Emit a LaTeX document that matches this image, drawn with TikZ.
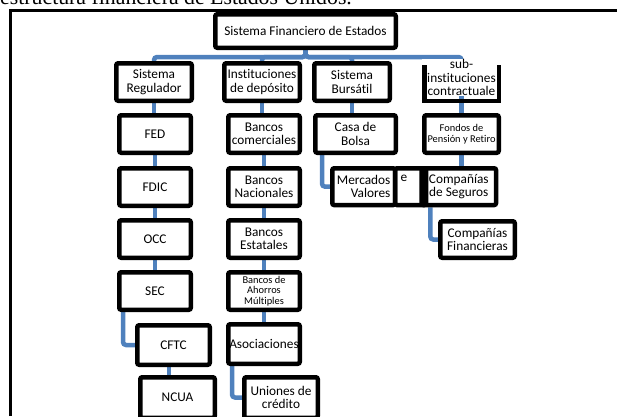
\documentclass[tikz,border=0pt]{standalone}
\usepackage{fontspec}
\setmainfont{Carlito}[Ligatures=NoCommon]
\newfontfamily\titlefont{Liberation Serif}
\usetikzlibrary{positioning,backgrounds}
\definecolor{linkblue}{RGB}{79,129,189}
\newcommand{\ov}[1]{\makebox[0pt]{#1}}
\tikzset{
  caja/.style={draw=black, line width=4.5pt, fill=white, rounded corners=2pt, inner sep=0pt, align=center, minimum height=37.5pt, font=\fontsize{13.3}{13.5}\selectfont},
  chica/.style={font=\fontsize{10.4}{10.7}\selectfont},
  enlace/.style={draw=linkblue, line width=4.5pt, rounded corners=3pt},
  barra/.style={black, line width=4.5pt},
  borde/.style={black, line width=3pt},
}

\begin{document}
\begin{tikzpicture}[x=1pt, y=-1pt]
\useasboundingbox (0,0) rectangle (617,416);
\clip (0,0) rectangle (617,416);
\node [anchor=base west, inner sep=0pt, font=\titlefont\fontsize{21.8}{24}\selectfont] (titulo) at (0,4) {estructura financiera de Estados Unidos.};
\draw [borde] (10,416) -- (10,10.5) -- (617,10.5);

\node [caja, minimum width=180.5pt, minimum height=33.5pt] (raiz) at (305.5,31) {Sistema Financiero de Estados};
\node [caja, minimum width=75.5pt] (regulador) at (154,82) {Sistema\\Regulador};
\node [caja, minimum width=75.5pt] (deposito) at (262,82) {\ov{Instituciones}\\de depósito};
\node [caja, minimum width=75.5pt] (bursatil) at (352,82) {Sistema\\Bursátil};
\node [caja, draw=none, outer sep=0pt, rounded corners=0pt, minimum width=79pt, minimum height=37pt] (contractual) at (461.5,77.5) {sub-\\instituciones\\contractuale};
\draw [barra] (424.25,65) -- (424.25,100.75) -- (498.75,100.75) -- (498.75,65);

\node [caja, minimum width=71.5pt] (fed) at (155,134) {FED};
\node [caja, minimum width=71.5pt, below=11pt of fed] (fdic) {FDIC};
\node [caja, minimum width=71.5pt, below=10pt of fdic] (occ) {OCC};
\node [caja, minimum width=71.5pt, below=10pt of occ] (sec) {SEC};
\node [caja, minimum width=72.5pt, minimum height=39.5pt] (cftc) at (173.5,345) {CFTC};
\node [caja, minimum width=74.5pt, minimum height=40.5pt] (ncua) at (177.5,397.5) {NCUA};

\node [caja, minimum width=71.5pt] (comerciales) at (264,134) {Bancos\\comerciales};
\node [caja, minimum width=71.5pt, below=11pt of comerciales] (nacionales) {Bancos\\Nacionales};
\node [caja, minimum width=71.5pt, below=10pt of nacionales] (estatales) {Bancos\\Estatales};
\node [caja, chica, minimum width=71.5pt, below=10pt of estatales] (ahorros) {Bancos de\\Ahorros\\Múltiples};
\node [caja, minimum width=71.5pt, minimum height=39.5pt, below=10pt of ahorros] (asociaciones) {\ov{Asociaciones}};
\node [caja, minimum width=73.5pt, minimum height=40.5pt] (uniones) at (281,397.5) {Uniones de\\crédito};

\node [caja, minimum width=80.5pt] (bolsa) at (355.5,134) {Casa de\\Bolsa};
\node [caja, align=right, minimum width=62.8pt, minimum height=36.8pt] (mercados) at (363.65,186.65) {Mercados\\Valores};
\node [caja, minimum width=74.5pt, minimum height=36.8pt] (seguros) at (458.8,186.65) {Compañías\\de Seguros};
\node [caja, fill=none, text width=20pt, align=left, minimum width=31pt, minimum height=36.8pt] (mercadose) at (410.55,186.65) {e\\\strut};

\node [caja, chica, minimum width=74.5pt] (fondos) at (461.5,134) {Fondos de\\Pensión y Retiro};
\node [caja, minimum width=74.5pt, minimum height=36.5pt] (financieras) at (477.5,239.5) {Compañías\\Financieras};

\begin{scope}[on background layer]
\draw [enlace] (raiz.south) -- ++(0,7) -| (regulador.north);
\draw [enlace] (raiz.south) -- ++(0,7) -| (deposito.north);
\draw [enlace] (raiz.south) -- ++(0,7) -| (bursatil.north);
\draw [enlace] (raiz.south) -- ++(0,7) -| (contractual.north);
\draw [enlace] (regulador.south) -- (regulador.south |- fed.north);
\draw [enlace] (fed.south) -- (fdic.north);
\draw [enlace] (fdic.south) -- (occ.north);
\draw [enlace] (occ.south) -- (sec.north);
\draw [enlace] ([xshift=-32pt]sec.south) |- (cftc.west);
\draw [enlace] ([xshift=-4.5pt]cftc.south) -- ([xshift=-4.5pt]cftc.south |- ncua.north);
\draw [enlace] (deposito.south) -- (deposito.south |- comerciales.north);
\draw [enlace] (comerciales.south) -- (nacionales.north);
\draw [enlace] (nacionales.south) -- (estatales.north);
\draw [enlace] (estatales.south) -- (ahorros.north);
\draw [enlace] (ahorros.south) -- (asociaciones.north);
\draw [enlace] ([xshift=-32pt]asociaciones.south) |- (uniones.west);
\draw [enlace] (bursatil.south) -- (bursatil.south |- bolsa.north);
\draw [enlace] ([xshift=-33.5pt]bolsa.south) |- (mercados.west);
\draw [enlace] (contractual.south) -- (contractual.south |- fondos.north);
\draw [enlace] (fondos.south) -- (fondos.south |- seguros.north);
\draw [enlace] ([xshift=-28.5pt]seguros.south) |- (financieras.west);
\end{scope}
\end{tikzpicture}
\end{document}
